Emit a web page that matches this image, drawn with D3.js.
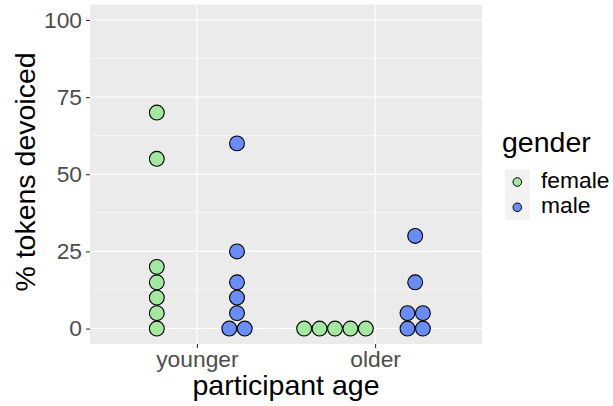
<!DOCTYPE html>
<html><head><meta charset="utf-8">
<script src="https://cdn.jsdelivr.net/npm/d3@7"></script>
<style>body{margin:0;background:#fff}svg{display:block}text{font-family:"Liberation Sans",Arial,sans-serif}</style>
</head><body>
<svg id="c" width="613" height="406"></svg>
<script>
const ageGroups = ["younger", "older"];
const genders = ["female", "male"];
const youngerFemale = [70, 55, 20, 15, 10, 5, 0];
const youngerMale = [60, 25, 15, 10, 5, 0, 0];
const olderFemale = [0, 0, 0, 0, 0];
const olderMale = [30, 15, 5, 5, 0, 0];
const yTicks = [0, 25, 50, 75, 100];
const yMinor = [12.5, 37.5, 62.5, 87.5];
const colors = {female: "#A4E8A0", male: "#6A8DF5"};
const binwidth = 5;

const groups = [
  {age: "younger", gender: "female", values: youngerFemale},
  {age: "younger", gender: "male", values: youngerMale},
  {age: "older", gender: "female", values: olderFemale},
  {age: "older", gender: "male", values: olderMale}
];

const svg = d3.select("#c");
const P = {l: 90, r: 482, t: 4.5, b: 344};
const FONT = "Liberation Sans, Arial, sans-serif";

const x = d3.scalePoint().domain(ageGroups).range([P.l, P.r]).padding(0.6);
const unit = x.step();
const dodge = d3.scaleBand().domain(genders).range([-0.45 * unit, 0.45 * unit]);
const y = d3.scaleLinear().domain([-5, 105]).range([P.b, P.t]);

svg.append("rect").attr("x", P.l).attr("y", P.t).attr("width", P.r - P.l).attr("height", P.b - P.t).attr("fill", "#EBEBEB");

const g = svg.append("g");
yMinor.forEach(v => g.append("line").attr("x1", P.l).attr("x2", P.r).attr("y1", y(v)).attr("y2", y(v)).attr("stroke", "#fff").attr("stroke-width", 0.55));
yTicks.forEach(v => g.append("line").attr("x1", P.l).attr("x2", P.r).attr("y1", y(v)).attr("y2", y(v)).attr("stroke", "#fff").attr("stroke-width", 1.1));
ageGroups.forEach(a => g.append("line").attr("x1", x(a)).attr("x2", x(a)).attr("y1", P.t).attr("y2", P.b).attr("stroke", "#fff").attr("stroke-width", 1.1));

// axes
const yAxis = d3.axisLeft(y).tickValues(yTicks).tickSize(4).tickPadding(4);
const ya = svg.append("g").attr("transform", `translate(${P.l},0)`).call(yAxis);
ya.select(".domain").remove();
ya.selectAll(".tick line").attr("stroke", "#333").attr("stroke-width", 1.1);
ya.selectAll(".tick text").attr("fill", "#4D4D4D").attr("font-size", 22.8).style("font-family", FONT);

const xAxis = d3.axisBottom(x).tickSize(4).tickPadding(3);
const xa = svg.append("g").attr("transform", `translate(0,${P.b})`).call(xAxis);
xa.select(".domain").remove();
xa.selectAll(".tick line").attr("stroke", "#333").attr("stroke-width", 1.1);
xa.selectAll(".tick text").attr("fill", "#4D4D4D").attr("font-size", 22.8).style("font-family", FONT)
  .attr("dy", null).attr("y", 366.5 - P.b);

// dots
const r = (y(0) - y(binwidth)) / 2;
const dots = [];
groups.forEach(grp => {
  const counts = d3.rollup(grp.values, v => v.length, d => d);
  counts.forEach((n, val) => {
    for (let i = 0; i < n; i++) {
      dots.push({gender: grp.gender, cx: x(grp.age) + dodge(grp.gender) + dodge.bandwidth() / 2 + (i - (n - 1) / 2) * 2 * r, cy: y(val)});
    }
  });
});
svg.append("g").selectAll("circle").data(dots).join("circle")
  .attr("cx", d => d.cx).attr("cy", d => d.cy).attr("r", r - 0.3)
  .attr("fill", d => colors[d.gender]).attr("stroke", "#000").attr("stroke-width", 1.1);

// titles
svg.append("text").attr("x", (P.l + P.r) / 2).attr("y", 395).attr("text-anchor", "middle").attr("font-size", 28.5).attr("fill", "#000").text("participant age");
svg.append("text").attr("transform", `translate(35,172) rotate(-90)`).attr("text-anchor", "middle").attr("font-size", 28.5).attr("fill", "#000").text("% tokens devoiced");

// legend
const lg = svg.append("g");
lg.append("text").attr("x", 502).attr("y", 152).attr("font-size", 28.5).attr("fill", "#000").text("gender");
genders.forEach((gd, i) => {
  const cy = 182 + i * 25.3;
  lg.append("rect").attr("x", 505).attr("y", cy - 12.5).attr("width", 25).attr("height", 25.3).attr("fill", "#F2F2F2");
  lg.append("circle").attr("cx", 517.3).attr("cy", cy).attr("r", 4.3).attr("fill", colors[gd]).attr("stroke", "#000").attr("stroke-width", 1);
  lg.append("text").attr("x", 541).attr("y", cy + 6).attr("font-size", 22.8).attr("fill", "#000").text(gd);
});
</script>
</body></html>
